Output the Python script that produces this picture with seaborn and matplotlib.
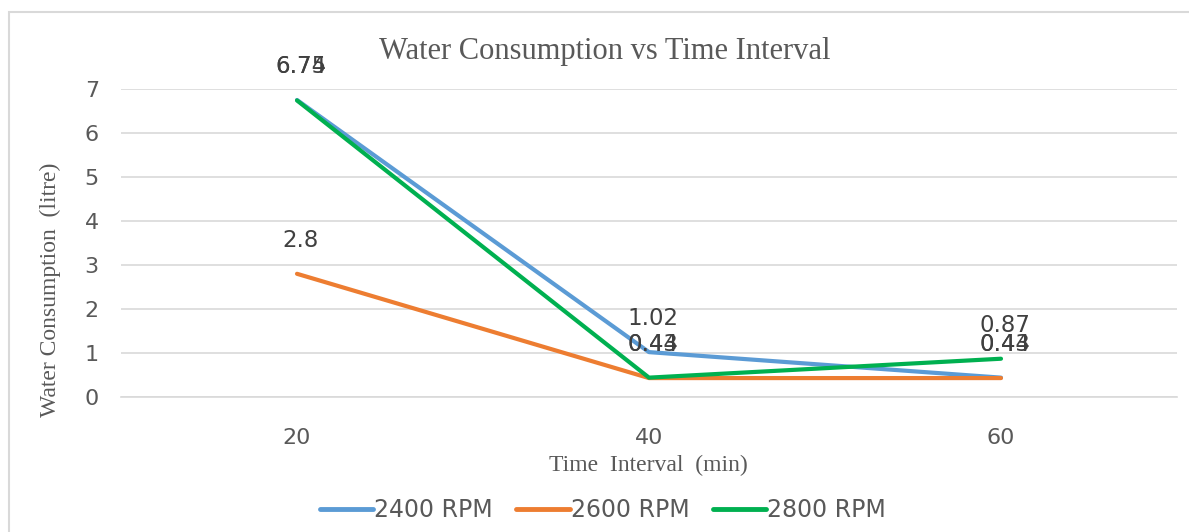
import matplotlib
matplotlib.use("Agg")
import matplotlib.pyplot as plt
import seaborn as sns
import pandas as pd
from matplotlib.patches import Rectangle
from matplotlib.lines import Line2D

# ---- data ----
time_interval = ["20", "40", "60"]
rpm_2400 = [6.75, 1.02, 0.44]
rpm_2600 = [2.8, 0.43, 0.43]
rpm_2800 = [6.74, 0.44, 0.87]
series_names = ["2400 RPM", "2600 RPM", "2800 RPM"]
series_values = [rpm_2400, rpm_2600, rpm_2800]
colors = ["#5B9BD5", "#ED7D31", "#00B050"]

rows = []
for name, vals in zip(series_names, series_values):
    for t, v in zip(time_interval, vals):
        rows.append({"Time": t, "Value": v, "Series": name})
df = pd.DataFrame(rows)

sns.set_theme(style="white")
plt.rcParams["font.family"] = ["DejaVu Sans"]

fig = plt.figure(figsize=(11.89, 5.32), dpi=100)
ax = fig.add_axes([121 / 1189, 1 - 397 / 532, (1177 - 121) / 1189, (397 - 89) / 532])

# outer chart border
fig.patches.append(Rectangle((9 / 1189, -0.05), 1.2, 1 - 12 / 532 + 0.05,
                             transform=fig.transFigure, fill=False,
                             edgecolor="#D9D9D9", linewidth=1.5))

sns.lineplot(data=df, x="Time", y="Value", hue="Series", palette=colors,
             linewidth=3, ax=ax, legend=False, sort=False)

ax.set_xlim(-0.5, 2.5)
ax.set_ylim(0, 7)
ax.set_yticks(range(0, 8))
ax.yaxis.grid(True, color="#D9D9D9", linewidth=1.2)
ax.set_axisbelow(True)
for s in ["top", "right", "left"]:
    ax.spines[s].set_visible(False)
ax.spines["bottom"].set_color("#D9D9D9")
ax.spines["bottom"].set_linewidth(1.2)
ax.tick_params(axis="both", length=0, labelsize=16, colors="#595959")
ax.tick_params(axis="x", pad=22)
ax.tick_params(axis="y", pad=16)
ax.set_xlabel("")
ax.set_ylabel("")

# data labels
for name, vals in zip(series_names, series_values):
    for i, v in enumerate(vals):
        ax.annotate(f"{v:g}", xy=(i, v), xytext=(4, 22), textcoords="offset pixels",
                    ha="center", va="bottom", fontsize=16.5, color="#404040")

fig.text(605 / 1189, 1 - 51 / 532, "Water Consumption vs Time Interval",
         family="Liberation Serif", fontsize=22, color="#595959",
         ha="center", va="center")
fig.text(648 / 1189, 1 - 465 / 532, "Time  Interval  (min)",
         family="Liberation Serif", fontsize=17, color="#595959",
         ha="center", va="center")
fig.text(50 / 1189, 1 - 290 / 532, "Water Consumption  (litre)",
         family="Liberation Serif", fontsize=17, color="#595959",
         ha="center", va="center", rotation=90)

handles = [Line2D([0], [0], color=c, linewidth=3.5) for c in colors]
fig.legend(handles, series_names, loc="center", bbox_to_anchor=(603 / 1189, 1 - 510 / 532),
           ncol=3, frameon=False, fontsize=17, labelcolor="#595959",
           handlelength=2.25, handletextpad=0.05, columnspacing=1.0)

fig.savefig("out.png", dpi=100)
